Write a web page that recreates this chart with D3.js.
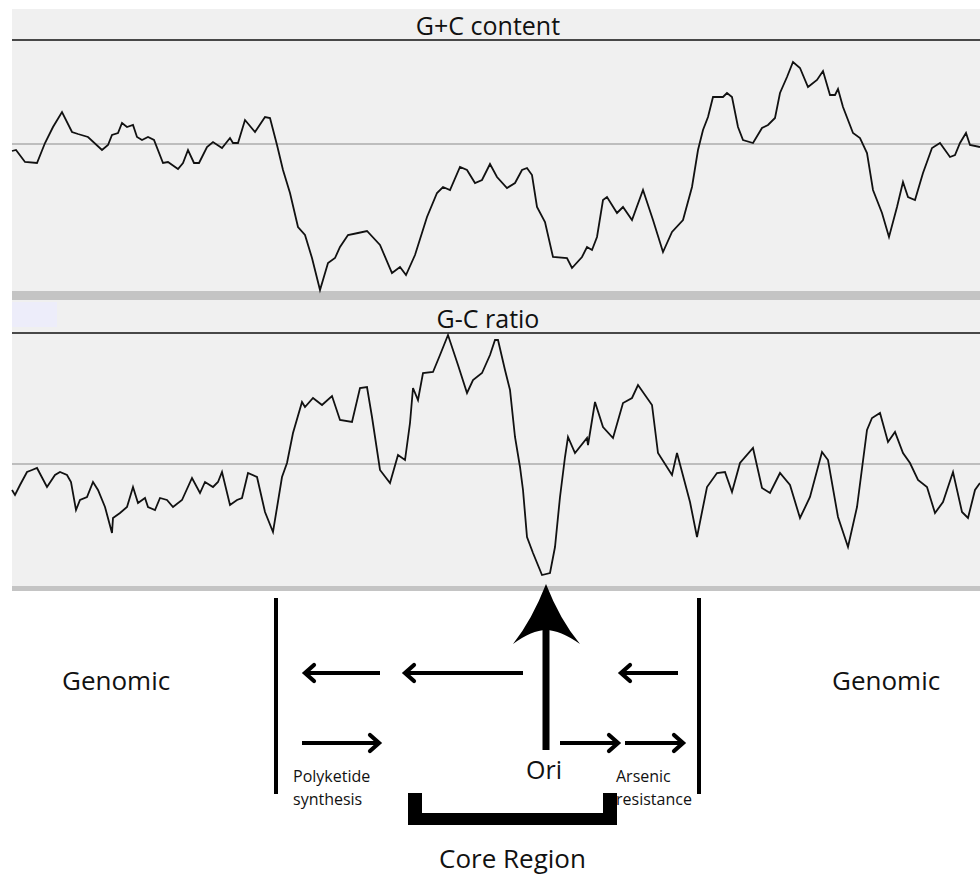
<!DOCTYPE html>
<html>
<head>
<meta charset="utf-8">
<script src="https://cdn.jsdelivr.net/npm/d3@7"></script>
<style>
  body { margin: 0; background: #fff; }
  svg text { font-family: "Open Sans", "Noto Sans", sans-serif; fill: #111; }
</style>
</head>
<body>
<div id="PlotArea"></div>
<script>
// genome position (window index) and deviation from the mean line
var gcPos = [0,4,13,25,33,41,50,60,66,76,90,96,100,106,110,115,121,125,130,136,142,151,156,166,171,176,182,187,195,201,210,218,221,226,233,243,253,258,265,271,278,286,293,300,308,316,323,328,336,346,355,368,380,388,394,403,415,425,431,438,448,455,463,470,478,485,495,503,510,515,520,525,533,541,555,560,570,575,580,585,591,595,605,611,620,631,641,651,660,671,680,686,691,696,701,711,715,720,726,731,741,750,756,763,768,775,781,788,796,805,811,818,823,826,831,841,848,855,861,870,877,885,891,896,903,911,920,928,938,943,948,954,958,968];
var gcVal = [-7,-6,-18,-19,1,17,32,12,10,7,-6,-1,9,11,21,17,19,7,4,7,4,-19,-18,-25,-19,-6,-19,-19,-3,2,-4,6,1,1,24,12,27,26,-1,-26,-49,-83,-91,-114,-146,-119,-114,-103,-91,-89,-87,-101,-129,-123,-131,-111,-73,-49,-43,-46,-23,-26,-39,-36,-20,-33,-44,-39,-26,-24,-31,-63,-78,-113,-114,-124,-113,-103,-106,-93,-56,-53,-69,-63,-76,-46,-76,-108,-88,-76,-43,-6,14,27,47,47,51,47,17,4,1,16,19,26,51,67,82,76,57,64,73,49,49,55,37,11,6,-9,-46,-69,-93,-63,-38,-53,-56,-29,-4,1,-13,-11,1,11,-1,-3];

var ratioPos = [0,3,8,15,20,25,35,43,48,55,59,64,68,75,81,86,93,100,101,108,115,121,126,133,136,143,148,155,161,170,180,188,193,201,206,210,218,225,230,236,245,253,261,270,275,281,290,293,301,310,320,328,340,348,355,360,368,378,386,393,398,401,406,411,421,428,436,446,455,461,470,478,483,486,493,498,503,508,511,515,521,530,538,543,548,553,556,563,575,576,583,591,601,611,620,626,640,646,660,665,678,685,695,705,713,720,728,741,750,758,768,778,788,798,810,816,826,836,845,855,860,868,876,883,891,898,906,915,923,931,941,950,956,963,968];
var ratioVal = [-26,-31,-21,-8,-6,-4,-23,-11,-8,-11,-18,-46,-36,-33,-18,-26,-43,-69,-54,-49,-43,-23,-39,-34,-43,-46,-34,-36,-43,-36,-14,-29,-18,-23,-18,-8,-41,-36,-34,-9,-13,-48,-68,-13,1,31,62,57,66,59,68,44,42,76,77,47,-6,-19,9,4,41,76,64,91,92,109,129,99,71,84,91,109,124,124,94,74,27,-3,-26,-73,-89,-111,-109,-83,-33,7,27,11,26,19,62,37,26,61,66,79,59,11,-11,11,-38,-73,-23,-9,-8,-28,1,16,-24,-29,-9,-21,-54,-33,12,4,-53,-83,-43,34,46,51,22,32,11,1,-16,-23,-49,-38,-8,-48,-54,-26,-19];

var panelTitles = ["G+C content", "G-C ratio"];

// genes on the two strands below the plots (start, end in genome position)
var leftGenes = [[368, 293], [511, 393], [666, 609]];
var rightGenes = [[290, 367], [548, 606], [613, 671]];
var boundaries = [264, 687];
var oriPos = 534;
var coreRegion = [396, 605];
var geneLabels = [["Polyketide", "synthesis"], ["Arsenic", "resistance"]];
var geneLabelPos = [281, 604];

var W = 980, H = 877;
var svg = d3.select("#PlotArea").append("svg").attr("width", W).attr("height", H);

var xscale = d3.scaleLinear().domain([0, 968]).range([12, 980]);

var panels = [
  { title: panelTitles[0], pos: gcPos, val: gcVal, top: 9, line: 40, bottom: 291, band: 9, domain: [-147, 104], titleY: 35 },
  { title: panelTitles[1], pos: ratioPos, val: ratioVal, top: 300, line: 333, bottom: 586, band: 5, domain: [-122, 131], titleY: 328 }
];

panels.forEach(function(p, k) {
  var yscale = d3.scaleLinear().domain(p.domain).range([p.bottom, p.line]);
  var g = svg.append("g");
  g.append("rect").attr("x", 12).attr("y", p.top).attr("width", 968).attr("height", p.bottom - p.top).attr("fill", "#f0f0f0");
  g.append("rect").attr("x", 12).attr("y", p.bottom).attr("width", 968).attr("height", p.band).attr("fill", "#c4c4c4");
  if (k == 1) {
    g.append("rect").attr("x", 12).attr("y", 302).attr("width", 45).attr("height", 25).attr("fill", "#ededfa");
  }
  g.append("line").attr("x1", 12).attr("x2", 980).attr("y1", p.line).attr("y2", p.line).attr("stroke", "#111").attr("stroke-width", 1.6);
  g.append("line").attr("x1", 12).attr("x2", 980).attr("y1", yscale(0)).attr("y2", yscale(0)).attr("stroke", "#8a8a8a").attr("stroke-width", 1.2);
  g.append("text").attr("x", 488).attr("y", p.titleY).attr("text-anchor", "middle").style("font-size", "25px").text(p.title);

  var dat = p.pos.map(function(d, i) { return { x: d, y: p.val[i] }; });
  var lineFunction = d3.line().x(function(d) { return xscale(d.x); }).y(function(d) { return yscale(d.y); });
  g.append("path").attr("d", lineFunction(dat)).attr("fill", "none").attr("stroke", "#111").attr("stroke-width", 1.8).attr("stroke-linejoin", "miter");
});

// diagram below the plots
var rowY = d3.scaleOrdinal().domain(["left", "right"]).range([673, 743]);
var diag = svg.append("g");

function geneArrow(a, b, y) {
  var x1 = xscale(a), x2 = xscale(b), dir = x2 > x1 ? 1 : -1;
  diag.append("line").attr("x1", x1).attr("x2", x2 - dir * 2).attr("y1", y).attr("y2", y)
      .attr("stroke", "#000").attr("stroke-width", 3.8);
  diag.append("path")
      .attr("d", "M" + (x2 - dir * 9) + "," + (y - 8) + "L" + x2 + "," + y + "L" + (x2 - dir * 9) + "," + (y + 8))
      .attr("fill", "none").attr("stroke", "#000").attr("stroke-width", 4.2).attr("stroke-linecap", "round").attr("stroke-linejoin", "miter");
}
leftGenes.forEach(function(d) { geneArrow(d[0], d[1], rowY("left")); });
rightGenes.forEach(function(d) { geneArrow(d[0], d[1], rowY("right")); });

boundaries.forEach(function(d) {
  diag.append("rect").attr("x", xscale(d) - 2).attr("y", 598).attr("width", 4).attr("height", 196).attr("fill", "#000");
});

// origin arrow
var ox = xscale(oriPos);
diag.append("rect").attr("x", ox - 3.5).attr("y", 630).attr("width", 7).attr("height", 120).attr("fill", "#000");
diag.append("path")
    .attr("d", "M" + ox + ",584 Q" + (ox + 14) + ",620 " + (ox + 34) + ",644 Q" + (ox + 14) + ",630 " + ox + ",630 Q" + (ox - 14) + ",630 " + (ox - 33) + ",644 Q" + (ox - 14) + ",620 " + ox + ",584 Z")
    .attr("fill", "#000");
diag.append("text").attr("x", ox - 2).attr("y", 779).attr("text-anchor", "middle").style("font-size", "25px").text("Ori");

// core region bracket
var c1 = xscale(coreRegion[0]), c2 = xscale(coreRegion[1]);
diag.append("path")
    .attr("d", "M" + c1 + ",793 H" + (c1 + 14) + " V813 H" + (c2 - 14) + " V793 H" + c2 + " V825 H" + c1 + " Z")
    .attr("fill", "#000");
diag.append("text").attr("x", (c1 + c2) / 2).attr("y", 868).attr("text-anchor", "middle").style("font-size", "26px").text("Core Region");

geneLabels.forEach(function(lines, i) {
  var t = diag.append("text").attr("x", xscale(geneLabelPos[i])).attr("y", 782).style("font-size", "16px");
  lines.forEach(function(s, j) {
    t.append("tspan").attr("x", xscale(geneLabelPos[i])).attr("dy", j == 0 ? 0 : 23).text(s);
  });
});

diag.append("text").attr("x", 62).attr("y", 690).style("font-size", "26px").text("Genomic");
diag.append("text").attr("x", 832).attr("y", 690).style("font-size", "26px").text("Genomic");
</script>
</body>
</html>
